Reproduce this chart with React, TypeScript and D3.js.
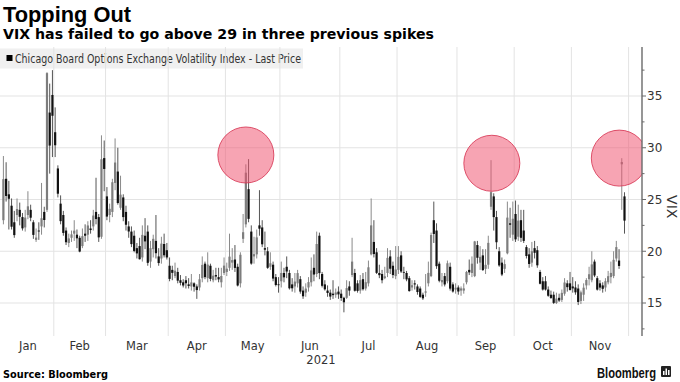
import React from "react";
import * as d3 from "d3";

// ---- Data (VIX daily OHLC, trading days Jan 4 – Nov 29, 2021) ----
const openV = [
  23.0, 27.0, 25.5, 24.4, 22.8, 23.5, 24.0, 23.3, 22.3, 23.5, 24.0, 22.8, 21.1, 22.0, 22.4, 23.8, 24.0, 33.4, 35.1,
  31.5, 28.0, 24.6, 23.5, 22.0, 20.8, 21.3, 21.7, 21.6, 21.3, 20.5, 21.7, 21.6, 22.2, 22.4, 23.8, 23.3, 21.4, 29.0,
  25.3, 23.5, 23.8, 26.6, 27.7, 24.2, 25.2, 23.8, 22.4, 21.9, 21.5, 20.3, 20.5, 19.4, 21.5, 21.9, 19.0, 20.2, 21.0, 19.5, 19.3, 20.7, 20.1,
  18.6, 18.2, 17.6, 18.0, 17.2, 17.0, 17.2, 16.8, 16.6, 16.9, 16.6, 16.5, 17.4, 18.8, 17.4, 18.6, 17.2, 17.7, 17.5, 17.0, 17.9,
  18.0, 18.4, 18.9, 19.2, 18.5, 16.9, 21.2, 22.6, 26.0, 21.9, 19.5, 19.7, 22.5, 22.3, 20.3, 20.0, 18.5, 18.7, 17.5, 16.8,
  17.1, 17.9, 18.5, 17.9, 16.8, 16.6, 16.9, 17.3, 16.2, 16.0, 16.5, 17.0, 18.4, 17.8, 21.5, 17.8, 16.8, 16.2, 16.0, 15.9, 15.8, 16.1,
  15.9, 15.5, 15.5, 16.6, 17.7, 17.9, 16.9, 16.2, 17.3, 16.4, 16.9, 19.7, 20.9, 19.9, 17.9, 17.8, 17.4, 17.9, 19.5, 18.6, 17.6,
  18.2, 19.6, 18.0, 17.9, 17.4, 16.5, 16.9, 16.6, 16.4, 15.8, 16.0, 16.9, 17.6, 23.0, 22.0, 18.8, 17.0, 17.6, 17.1, 18.5, 16.8, 16.3,
  16.5, 16.2, 16.2, 17.0, 18.2, 17.9, 17.6, 20.6, 18.9, 19.6, 18.3, 18.7, 24.3, 25.3, 23.3, 20.0, 18.9, 18.3, 19.8, 22.7, 21.6,
  23.6, 21.4, 23.0, 22.0, 20.4, 19.7, 18.9, 20.3, 20.1, 18.0, 17.1, 17.1, 16.3, 15.8, 15.8, 15.0, 15.5, 15.3, 15.9, 16.9, 16.9,
  16.6, 16.5, 16.4, 15.2, 15.8, 16.7, 17.3, 17.2, 19.0, 17.4, 16.9, 16.7, 16.5, 17.0, 17.5, 17.6, 19.3, 19.1, 28.4, 25.3,
];
const highV = [
  29.2, 28.6, 26.8, 25.1, 23.9, 25.1, 24.7, 23.7, 24.0, 25.8, 24.5, 23.0, 22.2, 22.8, 26.6, 24.3, 37.3, 36.2, 37.5,
  33.9, 28.3, 25.4, 23.9, 22.3, 21.7, 22.0, 23.0, 22.1, 21.5, 22.2, 22.6, 22.9, 23.0, 24.0, 27.1, 23.6, 31.2, 30.7,
  26.2, 24.6, 27.0, 30.9, 30.0, 27.3, 25.5, 24.4, 22.9, 22.4, 22.0, 20.8, 21.3, 22.5, 23.2, 22.5, 21.0, 21.6, 23.5, 20.3, 21.4, 21.7, 20.8,
  19.4, 18.6, 18.9, 18.4, 17.7, 17.3, 17.6, 17.4, 17.8, 17.0, 16.8, 17.8, 19.5, 19.0, 19.9, 18.8, 18.2, 18.4, 18.4, 18.4, 19.4,
  18.9, 21.7, 20.3, 20.6, 18.8, 19.9, 23.6, 28.4, 28.9, 22.5, 21.4, 22.1, 25.9, 23.0, 21.9, 20.4, 19.9, 19.0, 17.8, 17.5,
  19.0, 18.4, 19.5, 18.2, 17.4, 17.9, 18.2, 17.6, 16.6, 16.9, 17.5, 19.4, 19.7, 21.9, 21.8, 18.0, 17.2, 16.7, 16.3, 17.2, 16.4, 16.6,
  16.3, 15.6, 17.2, 17.1, 21.3, 18.3, 17.2, 17.7, 17.9, 18.0, 19.1, 25.1, 23.0, 20.3, 18.7, 18.2, 18.5, 20.3, 20.1, 19.0, 20.5,
  20.5, 20.0, 18.5, 18.1, 17.6, 17.2, 17.2, 16.8, 16.6, 16.0, 17.8, 19.0, 21.8, 24.8, 22.7, 19.0, 17.9, 17.9, 19.1, 18.9, 17.0, 16.9,
  16.7, 16.6, 16.9, 18.1, 19.2, 19.5, 21.0, 21.0, 20.5, 20.2, 20.2, 21.5, 28.8, 25.6, 23.9, 20.4, 19.4, 19.2, 24.8, 24.2, 24.8,
  24.9, 24.5, 24.0, 24.0, 20.6, 20.3, 20.9, 21.0, 20.5, 18.2, 17.5, 17.6, 16.6, 16.2, 16.1, 16.0, 15.9, 16.3, 17.4, 17.2, 18.0,
  17.5, 17.1, 16.8, 16.2, 16.9, 17.4, 18.5, 20.0, 19.2, 17.6, 17.2, 17.0, 17.4, 18.1, 19.0, 20.0, 21.0, 20.2, 28.99, 25.7,
];
const lowV = [
  22.6, 24.8, 22.1, 22.1, 21.3, 22.9, 22.5, 22.0, 21.9, 23.1, 22.9, 21.2, 20.9, 21.1, 21.6, 22.3, 23.8, 27.5, 29.1,
  29.1, 25.2, 22.6, 21.5, 20.6, 20.4, 20.9, 21.0, 20.3, 19.9, 20.3, 20.9, 21.0, 21.7, 22.0, 22.6, 20.9, 21.2, 25.8,
  23.0, 22.8, 23.3, 25.9, 24.5, 24.0, 22.9, 22.0, 21.3, 20.4, 19.9, 19.3, 19.2, 19.0, 20.2, 18.6, 18.4, 19.4, 19.3, 18.6, 18.8, 19.4, 19.2,
  17.1, 17.2, 17.4, 16.9, 16.7, 16.5, 16.4, 16.4, 16.2, 16.1, 15.4, 16.2, 17.0, 17.3, 17.0, 17.1, 17.0, 17.2, 17.0, 16.5, 17.7,
  17.6, 18.1, 18.2, 18.0, 16.6, 16.5, 20.8, 22.3, 22.8, 18.7, 18.8, 19.3, 21.5, 20.4, 19.6, 18.3, 18.2, 17.1, 16.6, 16.0,
  16.5, 17.0, 17.4, 16.3, 16.1, 16.0, 16.5, 15.9, 15.4, 15.6, 16.1, 16.6, 17.1, 17.5, 17.3, 16.5, 16.2, 15.6, 15.3, 15.4, 15.5, 15.4,
  15.2, 14.1, 15.4, 15.7, 17.5, 16.1, 16.0, 15.9, 16.2, 16.2, 16.6, 19.6, 19.4, 17.8, 17.4, 16.9, 17.3, 17.5, 17.8, 17.4, 17.3,
  17.8, 17.9, 17.3, 17.1, 16.1, 16.2, 16.3, 15.8, 15.5, 15.3, 15.6, 16.6, 17.5, 20.8, 18.3, 17.0, 16.6, 16.6, 16.9, 16.2, 16.0, 15.9,
  15.8, 15.7, 15.9, 16.8, 17.7, 17.5, 17.5, 18.8, 18.2, 18.1, 17.8, 18.3, 24.0, 22.0, 20.2, 18.5, 17.6, 17.9, 19.7, 21.3, 21.0,
  20.9, 21.0, 20.9, 20.8, 19.3, 18.4, 18.5, 19.3, 18.4, 16.8, 16.2, 16.2, 15.6, 15.4, 14.9, 14.9, 15.1, 15.1, 15.7, 16.1, 16.2,
  16.0, 15.8, 14.8, 14.9, 15.2, 16.3, 16.7, 17.0, 17.5, 16.2, 16.2, 16.0, 16.1, 16.8, 16.9, 17.4, 19.0, 18.3, 24.0, 21.7,
];
const closeV = [
  26.97, 25.34, 25.07, 22.37, 21.56, 24.08, 23.33, 22.21, 23.25, 24.34, 23.24, 21.58, 21.32, 21.91, 23.19, 23.02, 37.21, 30.21, 33.09,
  30.24, 25.56, 22.91, 21.77, 20.87, 21.24, 21.63, 21.99, 21.25, 19.97, 21.46, 21.5, 22.49, 22.05, 23.45, 23.11, 21.34, 28.89, 27.95,
  23.35, 24.1, 26.67, 28.57, 24.66, 25.47, 23.3, 22.56, 21.91, 20.69, 20.03, 19.79, 19.23, 21.58, 20.95, 18.88, 20.3, 21.2, 19.81, 18.86, 20.74, 19.61, 19.4,
  17.33, 17.91, 18.12, 17.16, 16.95, 16.69, 16.91, 16.65, 16.99, 16.57, 16.25, 17.29, 18.68, 17.5, 18.71, 17.33, 17.64, 17.56, 17.28, 17.61, 18.61,
  18.31, 19.48, 19.15, 18.39, 16.69, 19.66, 21.84, 27.59, 23.13, 18.81, 19.72, 21.34, 22.18, 20.67, 20.15, 18.4, 18.84, 17.36, 16.74, 16.76,
  17.9, 17.48, 18.04, 16.42, 16.42, 17.07, 17.89, 16.1, 15.65, 16.39, 17.02, 18.15, 17.75, 20.7, 17.89, 16.66, 16.32, 15.97, 15.62, 15.76, 16.02, 15.83,
  15.48, 15.07, 16.44, 16.2, 19.0, 16.18, 16.17, 17.21, 16.33, 17.01, 18.45, 22.5, 19.73, 17.91, 17.69, 17.2, 17.58, 19.36, 18.31, 17.7, 18.24,
  19.46, 18.04, 17.97, 17.28, 16.15, 16.72, 16.79, 16.06, 15.59, 15.45, 16.12, 17.91, 21.57, 21.67, 18.56, 17.15, 17.22, 16.79, 18.84, 16.39, 16.11, 16.48,
  16.11, 16.41, 16.41, 18.0, 17.96, 18.8, 20.95, 19.37, 19.46, 18.18, 18.69, 20.81, 25.71, 23.3, 20.87, 18.63, 17.75, 18.76, 23.25, 22.56, 23.14,
  21.15, 22.96, 21.3, 21.0, 19.54, 18.77, 20.0, 19.85, 18.64, 16.86, 16.3, 16.3, 15.7, 15.49, 15.01, 15.43, 15.24, 15.98, 16.98, 16.53, 16.26,
  16.41, 16.03, 15.1, 16.03, 16.48, 17.22, 17.78, 18.73, 17.66, 16.29, 16.49, 16.37, 17.11, 17.59, 17.91, 19.17, 20.4, 18.58, 28.62, 22.96,
];

const holidays = ["2021-01-18", "2021-02-15", "2021-04-02", "2021-05-31", "2021-07-05", "2021-09-06", "2021-11-25"];
const monthLabels = ["Jan", "Feb", "Mar", "Apr", "May", "Jun", "Jul", "Aug", "Sep", "Oct", "Nov"];
const yTicks = [15, 20, 25, 30, 35];
const yMinorTicks = [12.5, 17.5, 22.5, 27.5, 32.5, 37.5];
const yearLabel = "2021";
// highlighted spikes: [trading-day index, VIX level]
const spikeIdx = [89, 179.3, 226.1];
const spikeLevel = [29.3, 28.5, 29.0];

const fmt = d3.timeFormat("%Y-%m-%d");
function tradingDays(start: Date, end: Date) {
  const out: Date[] = [];
  for (let d = new Date(start); d <= end; d = d3.timeDay.offset(d, 1)) {
    const wd = d.getDay();
    if (wd === 0 || wd === 6) continue;
    if (holidays.includes(fmt(d))) continue;
    out.push(new Date(d));
  }
  return out;
}

const FONT = "'DejaVu Sans', Verdana, sans-serif";

export default function App() {
  const W = 680, H = 382;
  const plotL = 0, plotR = 642, plotT = 47, plotB = 336;
  const axisDays = tradingDays(new Date(2021, 0, 4), new Date(2021, 10, 30));
  const x = d3.scaleLinear().domain([0, 228]).range([3.4, 624.5]);
  const y = d3.scaleLinear().domain([15, 35]).range([303, 96]);

  const months: { m: number; first: number; last: number }[] = [];
  axisDays.forEach((d, i) => {
    const m = d.getMonth();
    const cur = months[months.length - 1];
    if (!cur || cur.m !== m) months.push({ m, first: i, last: i });
    else cur.last = i;
  });
  const gridIdx = months.slice(1).map((m) => m.first - 0.5).concat([axisDays.length - 0.5]);

  const bodyW = 2.2;
  const n = closeV.length;

  return (
    <svg width={W} height={H} style={{ display: "block", position: "absolute", left: 0, top: 0, background: "#fff" }}>
      <defs>
        <clipPath id="plotclip">
          <rect x={plotL} y={plotT - 20} width={plotR - plotL} height={plotB - plotT + 20} />
        </clipPath>
      </defs>
      <rect x={0} y={0} width={W} height={H} fill="#fff" />

      <text x={3} y={22} fontFamily="'Liberation Sans', Arial, sans-serif" fontWeight="bold" fontSize={21.5} fill="#000" textLength={128} lengthAdjust="spacingAndGlyphs">
        Topping Out
      </text>
      <text x={3} y={38.5} fontFamily={FONT} fontWeight="bold" fontSize={13.8} fill="#000" textLength={431} lengthAdjust="spacingAndGlyphs">
        VIX has failed to go above 29 in three previous spikes
      </text>

      <rect x={0} y={48.5} width={303} height={20} fill="#f0f0f0" />
      <rect x={6.5} y={55} width={6} height={6} fill="#000" />
      <text x={15} y={62.5} fontFamily={FONT} fontSize={11.5} fill="#333" textLength={286} lengthAdjust="spacingAndGlyphs">
        Chicago Board Options Exchange Volatility Index - Last Price
      </text>

      {yTicks.map((t) => (
        <line key={"hg" + t} x1={plotL} x2={plotR} y1={y(t)} y2={y(t)} stroke="#e3e3e3" strokeWidth={1} />
      ))}
      {gridIdx.map((gi, i) => (
        <line key={"vg" + i} x1={x(gi)} x2={x(gi)} y1={plotT} y2={plotB} stroke="#e3e3e3" strokeWidth={1} />
      ))}

      <g clipPath="url(#plotclip)">
        {d3.range(n).map((i) => {
          const up = closeV[i] >= openV[i];
          const cx = x(i);
          const top = y(Math.max(openV[i], closeV[i]));
          const bot = y(Math.min(openV[i], closeV[i]));
          const col = up ? "#7d7d7d" : "#111";
          return (
            <g key={"c" + i}>
              <line x1={cx} x2={cx} y1={y(highV[i])} y2={y(lowV[i])} stroke={up ? "#8a8a8a" : "#555"} strokeWidth={1} />
              <rect x={cx - bodyW / 2} y={top} width={bodyW} height={Math.max(bot - top, 0.8)} fill={col} />
            </g>
          );
        })}
        {spikeIdx.map((si, i) => (
          <circle key={"sp" + i} cx={x(si)} cy={y(spikeLevel[i])} r={28} fill="rgba(240,80,110,0.52)" stroke="rgba(215,55,85,0.85)" strokeWidth={1} />
        ))}
      </g>

      <line x1={plotR} x2={plotR} y1={plotT} y2={plotB} stroke="#6a6a6a" strokeWidth={1.4} />
      {yTicks.map((t) => (
        <g key={"yt" + t}>
          <line x1={plotR} x2={plotR + 4} y1={y(t)} y2={y(t)} stroke="#6a6a6a" strokeWidth={1} />
          <text x={plotR + 5} y={y(t) + 4.3} fontFamily={FONT} fontSize={12} fill="#333">
            {t}
          </text>
        </g>
      ))}
      {yMinorTicks.map((t) => (
        <line key={"ym" + t} x1={plotR} x2={plotR + 2.5} y1={y(t)} y2={y(t)} stroke="#6a6a6a" strokeWidth={1} />
      ))}
      <text transform={`translate(667,${y(24.3)}) rotate(90)`} textAnchor="middle" fontFamily={FONT} fontSize={14} fill="#333">
        VIX
      </text>

      {months.map((m, i) => (
        <text key={"ml" + i} x={x((m.first + m.last) / 2)} y={350} textAnchor="middle" fontFamily={FONT} fontSize={11.5} fill="#333">
          {monthLabels[m.m]}
        </text>
      ))}
      <text x={(plotL + plotR) / 2} y={364} textAnchor="middle" fontFamily={FONT} fontSize={11.5} fill="#333">
        {yearLabel}
      </text>

      <text x={3} y={377.5} fontFamily={FONT} fontWeight="bold" fontSize={10} fill="#000" textLength={105} lengthAdjust="spacingAndGlyphs">
        Source: Bloomberg
      </text>
      <text x={597} y={378} fontFamily="'Liberation Sans', Arial, sans-serif" fontWeight="bold" fontSize={15} fill="#111" textLength={59} lengthAdjust="spacingAndGlyphs">
        Bloomberg
      </text>
      <rect x={661} y={366} width={10} height={11} rx={1} fill="#222" />
      <rect x={663} y={371} width={1.5} height={4} fill="#fff" />
      <rect x={665.5} y={368.5} width={1.5} height={6.5} fill="#fff" />
      <rect x={668} y={370} width={1.5} height={5} fill="#fff" />
    </svg>
  );
}
